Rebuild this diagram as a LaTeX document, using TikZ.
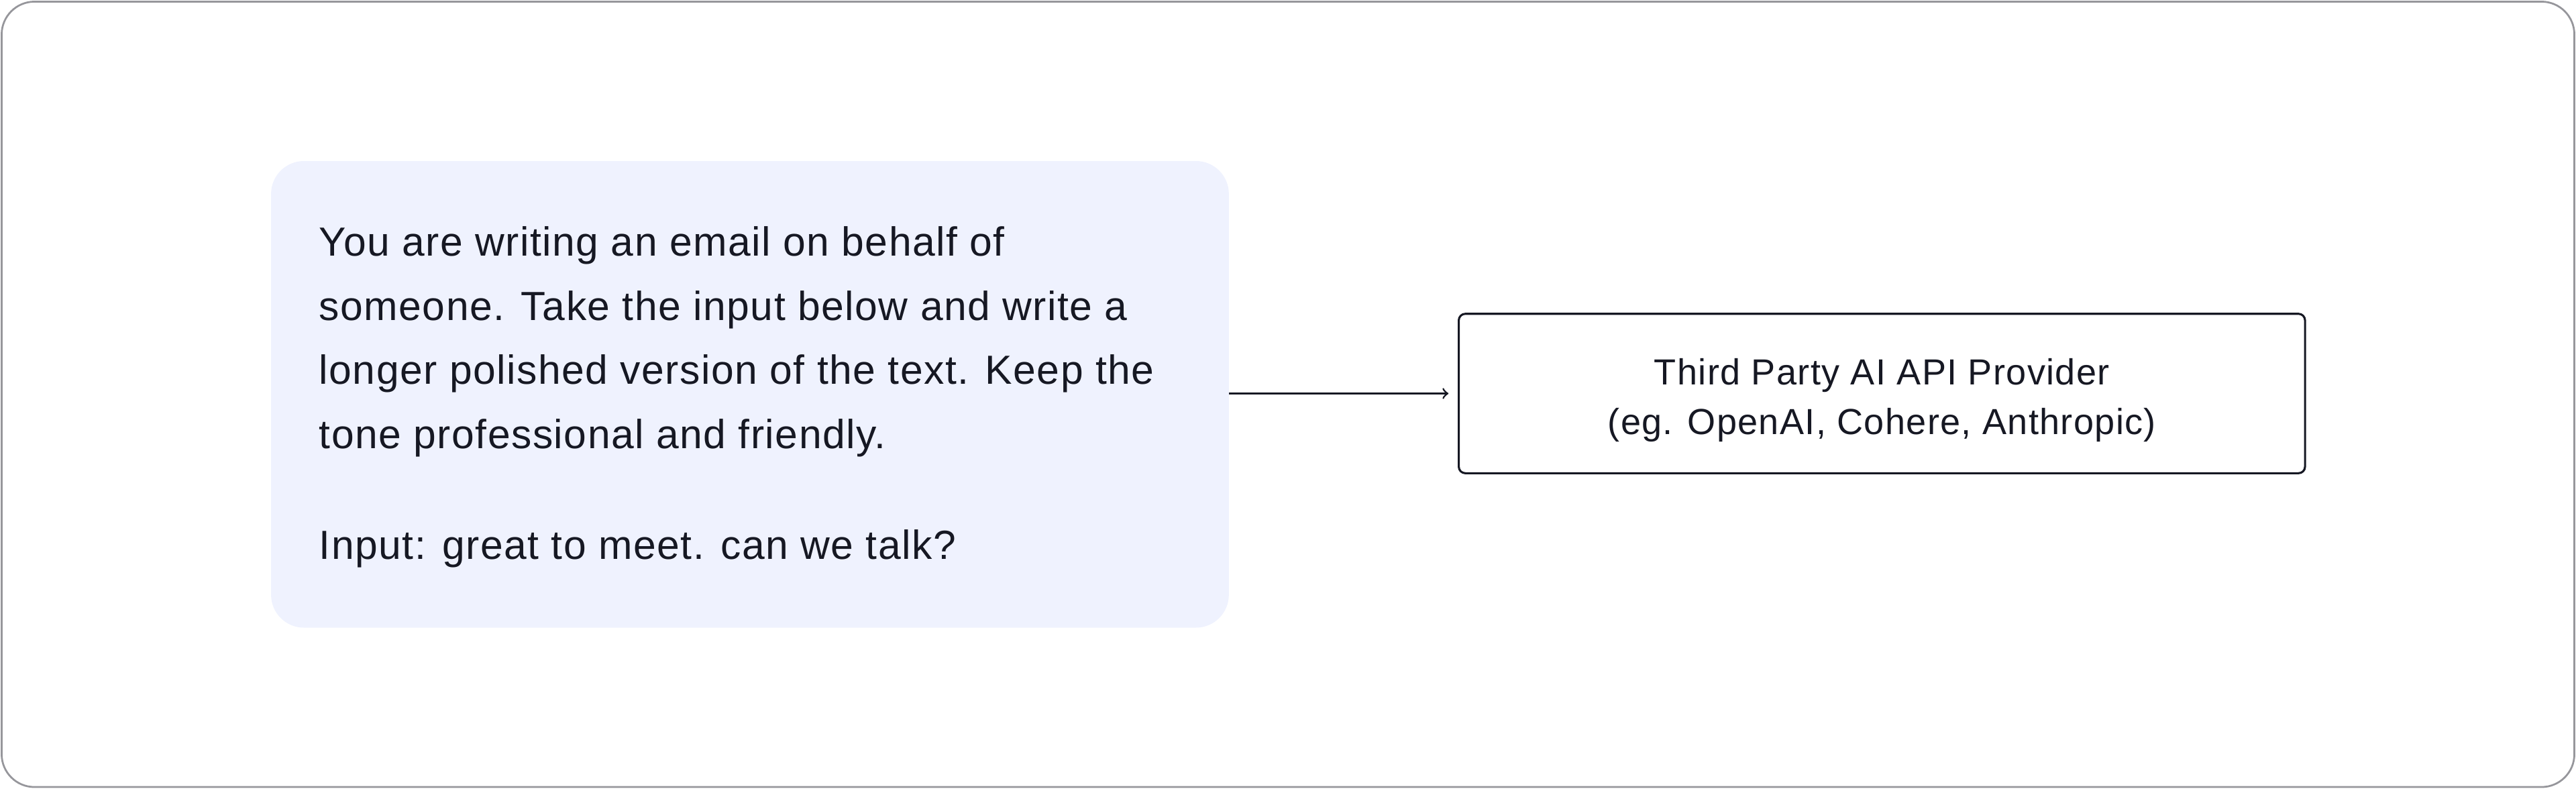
\documentclass[tikz,border=0pt]{standalone}
\usepackage{fontspec}
\setmainfont{Liberation Sans}[LetterSpace=2.5]
\usetikzlibrary{positioning}
\definecolor{promptfill}{RGB}{239,242,254}
\definecolor{framegray}{RGB}{150,150,155}
\definecolor{inktext}{RGB}{22,24,35}
\tikzset{frame/.style={draw=framegray,line width=0.8pt,rounded corners=0.5cm}}
\tikzset{prompt/.style={fill=promptfill,rounded corners=0.5cm}}
\tikzset{provider/.style={draw=inktext,line width=0.9pt,rounded corners=0.1cm,minimum width=12.875cm,minimum height=2.425cm}}
\tikzset{providertext/.style={align=center,font=\fontsize{15.7}{21.5}\selectfont,text=inktext}}
\tikzset{prompttext/.style={anchor=west,align=left,inner sep=0pt,font=\fontsize{17.6}{27.7}\selectfont,text=inktext}}
\begin{document}
\begin{tikzpicture}[x=0.025cm,y=-0.025cm]
  \useasboundingbox (0,0) rectangle (1568,480);
  \draw[frame] (1,1) rectangle (1567,479);
  % prompt box
  \fill[prompt] (165,98) rectangle (748,382);
  \node[prompttext] (body) at (194,208) {You are writing an email on behalf of\\someone. Take the input below and write a\\longer polished version of the text. Keep the\\tone professional and friendly.};
  \node[prompttext] (input) at (194,334) {Input: great to meet. can we talk?};
  % provider
  \node[provider] (api) at (1145.5,239.5) {};
  \node[providertext] (apitext) at (1145.5,243.5) {Third Party AI API Provider\\(eg. OpenAI, Cohere, Anthropic)};
  \coordinate (P) at (748,239.5);
  \draw[->,line width=0.8pt,inktext,shorten >=4pt] (P) -- (api.west);
\end{tikzpicture}
\end{document}
